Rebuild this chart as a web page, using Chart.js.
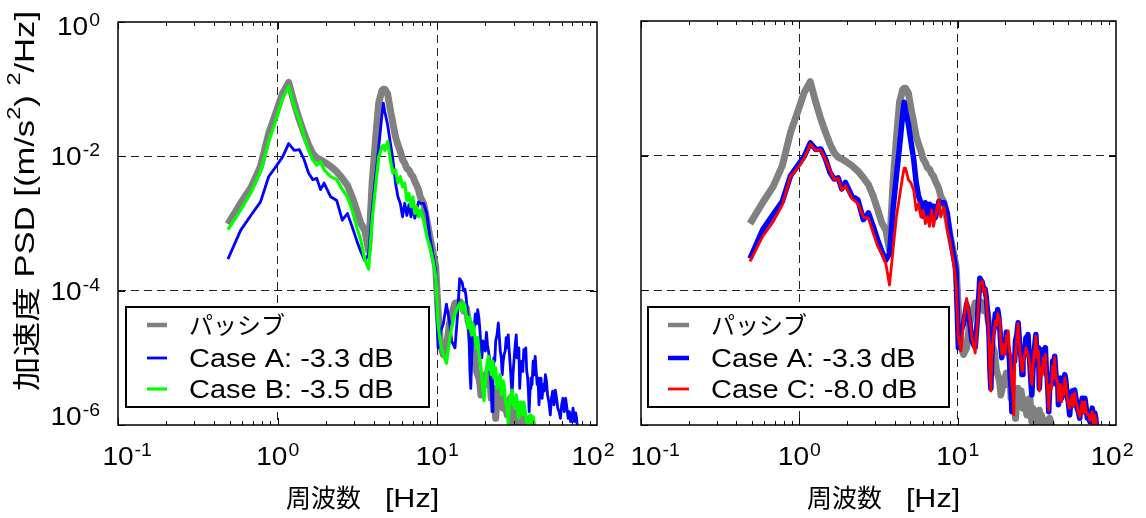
<!DOCTYPE html>
<html>
<head>
<meta charset="utf-8">
<script src="https://cdn.jsdelivr.net/npm/chart.js@4.4.1/dist/chart.umd.min.js"></script>
<style>
  html, body { margin: 0; padding: 0; background: #fff; }
  #wrap { position: relative; width: 1146px; height: 518px; }
  #wrap canvas { position: absolute; left: 0; top: 0; }
</style>
</head>
<body>
<div id="wrap">
  <canvas id="psdLeft" width="1146" height="518"></canvas>
  <canvas id="psdRight" width="1146" height="518"></canvas>
</div>
<script>
// frequency [Hz]
const freq = [
  0.488, 0.586, 0.684, 0.781, 0.879, 0.977, 1.074, 1.172, 1.270, 1.367, 1.465, 1.563, 1.660, 1.758, 1.855, 1.953,
  2.148, 2.344, 2.539, 2.734, 2.930, 3.125, 3.320, 3.516, 3.711, 3.906, 4.102, 4.297, 4.492, 4.590,
  4.688, 4.883, 5.078, 5.273, 5.469, 5.664, 5.859, 6.055, 6.250, 6.445, 6.641, 6.836, 7.031, 7.227, 7.422, 7.617, 7.813,
  8.203, 8.594, 8.984, 9.375, 9.766,
  10.1, 10.5, 10.9, 11.4, 11.9, 12.3, 12.9, 13.4, 13.8,
  14.3, 14.6, 14.9, 15.15, 15.4, 15.6, 15.8, 16.0, 16.2, 16.45, 16.7, 17.0, 17.3, 17.6, 17.9, 18.2, 18.5, 18.75, 19.0, 19.3,
  19.6, 19.95, 20.3, 20.6, 20.9, 21.2, 21.5, 21.75, 22.0, 22.3, 22.6, 22.9, 23.2, 23.65, 24.1, 24.45, 24.8, 25.15, 25.5, 25.85,
  26.2, 26.6, 27.0, 27.4, 27.8, 28.2, 28.6, 29.0, 29.4, 29.85, 30.3, 30.75, 31.2, 31.6, 32.0, 32.4, 32.8, 33.3, 33.8, 34.3,
  34.8, 35.3, 35.8, 36.3, 36.8, 37.2, 37.6, 38.1, 38.6, 39.2, 39.8, 40.4, 41.0, 41.6, 42.2, 42.75, 43.3, 43.95, 44.6, 45.3,
  46.0, 46.75, 47.5, 48.25, 49.0, 50.0, 51.0, 51.9, 52.8, 53.8, 54.8, 55.8, 56.8, 57.9, 59.0, 60.1, 61.2, 62.4, 63.6, 64.8,
  66.0, 67.2, 68.4, 69.6, 70.8, 72.15, 73.5, 74.5, 75.5, 76.45, 77.4
];

// PSD [(m/s2)2/Hz]
const passive = [
  9.8e-4, 2.0e-3, 3.5e-3, 7.1e-3, 2.2e-2, 4.5e-2, 8.7e-2, 1.26e-1, 6.2e-2, 3.5e-2, 2.2e-2, 1.48e-2, 1.10e-2, 9.5e-3, 8.9e-3, 8.3e-3,
  7.1e-3, 5.9e-3, 4.7e-3, 3.7e-3, 2.5e-3, 1.58e-3, 1.0e-3, 7.9e-4, 4.0e-4, 4.0e-3, 1.78e-2, 6.3e-2, 9.5e-2, 1.0e-1,
  1.0e-1, 8.5e-2, 4.9e-2, 3.1e-2, 1.95e-2, 1.48e-2, 1.18e-2, 8.9e-3, 7.9e-3, 6.6e-3, 6.3e-3, 5.4e-3, 5.0e-3, 4.2e-3, 3.7e-3, 3.2e-3, 2.5e-3,
  2.0e-3, 1.12e-3, 6.3e-4, 3.8e-4, 2.3e-4,
  5.0e-5, 1.48e-5, 1.12e-5, 1.41e-5, 3.2e-5, 4.5e-5, 6.5e-5, 6.6e-5, 6.9e-5,
  6.3e-5, 5.0e-5, 5.6e-5, 5.6e-5, 4.5e-5, 3.5e-5, 3.2e-5, 2.8e-5, 2.0e-5, 1.58e-5, 1.41e-5, 1.26e-5, 8.9e-6, 6.3e-6, 5.6e-6, 5.0e-6, 4.0e-6, 2.8e-6, 3.3e-6, 4.0e-6,
  4.5e-6, 5.0e-6, 5.9e-6, 4.0e-6, 4.5e-6, 5.0e-6, 4.0e-6, 2.5e-6, 3.2e-6, 3.5e-6, 3.5e-6, 2.5e-6, 1.26e-6, 2.5e-6, 3.5e-6, 2.2e-6, 3.0e-6, 3.2e-6, 2.5e-6, 1.78e-6,
  2.0e-6, 2.2e-6, 1.66e-6, 1.41e-6, 2.0e-6, 2.2e-6, 2.5e-6, 1.58e-6, 1.12e-6, 1.78e-6, 1.41e-6, 1.05e-6, 1.17e-6, 1.41e-6, 1.58e-6, 1.26e-6, 1.66e-6, 1.05e-6, 1.41e-6, 1.26e-6,
  1.05e-6, 1.12e-6, 9.3e-7, 8.9e-7, 1.05e-6, 1.0e-6, 1.2e-6, 1.26e-6, 1.12e-6, 1.0e-6, 8.9e-7, 7.9e-7, 7.6e-7, 7.1e-7, 5.6e-7, null, null, null, null, null,
  null, null, null, null, null, null, null, null, null, null, null, null, null, null, null, null, null, null, null, null,
  null, null, null, null, null, null, null, null, null, null, null
];

const caseA = [
  2.95e-4, 7.9e-4, 1.35e-3, 2.1e-3, 5.0e-3, 7.1e-3, 9.8e-3, 1.55e-2, 1.23e-2, 1.26e-2, 8.9e-3, 5.6e-3, 4.5e-3, 4.7e-3, 3.2e-3, 4.0e-3,
  2.5e-3, 2.2e-3, 1.12e-3, 1.41e-3, 8.9e-4, 5.6e-4, 3.8e-4, 2.8e-4, 3.5e-4, 1.58e-3, 5.0e-3, 1.38e-2, 4.0e-2, 6.2e-2,
  4.6e-2, 2.95e-2, 1.58e-2, 8.9e-3, 4.0e-3, 2.5e-3, 2.0e-3, 1.26e-3, 2.0e-3, 1.32e-3, 1.9e-3, 1.26e-3, 1.78e-3, 1.2e-3, 1.58e-3, 2.1e-3, 2.0e-3,
  2.0e-3, 1.41e-3, 6.3e-4, 3.5e-4, 2.0e-4,
  1.41e-5, 2.5e-5, 3.2e-5, 6.3e-5, 3.5e-5, 1.78e-5, 1.41e-5, 4.5e-5, 1.51e-4,
  1.32e-4, 1.0e-4, 1.05e-4, 7.9e-5, 5.0e-5, 3.5e-5, 2.0e-5, 6.3e-6, 3.5e-6, 1.12e-5, 2.2e-5, 2.8e-5, 4.5e-5, 3.2e-5, 5.2e-5, 4.0e-5, 2.5e-5, 1.41e-5, 1.0e-5, 1.78e-5,
  1.58e-5, 1.26e-5, 2.4e-5, 1.58e-5, 1.26e-5, 1.0e-5, 5.0e-6, 3.5e-6, 1.58e-6, 6.3e-6, 1.0e-5, 8.9e-6, 1.78e-5, 2.2e-5, 3.3e-5, 2.0e-5, 1.26e-5, 1.0e-5, 5.6e-6, 8.9e-6,
  1.12e-5, 1.26e-5, 2.0e-5, 1.41e-5, 2.2e-5, 1.26e-5, 7.9e-6, 4.5e-6, 2.8e-6, 6.3e-6, 1.0e-5, 1.58e-5, 2.2e-5, 1.0e-5, 1.26e-5, 1.41e-5, 3.5e-6, 7.9e-6, 8.9e-6, 6.3e-6,
  1.32e-5, 1.0e-5, 1.41e-5, 6.3e-6, 5.0e-6, 3.2e-6, 1.58e-6, 3.5e-6, 5.0e-6, 4.0e-6, 8.9e-6, 5.6e-6, 1.05e-5, 6.3e-6, 4.0e-6, 5.0e-6, 2.0e-6, 3.2e-6, 5.0e-6, 2.5e-6,
  4.0e-6, 3.2e-6, 5.6e-6, 4.5e-6, 2.8e-6, 2.2e-6, 1.41e-6, 2.5e-6, 3.2e-6, 2.0e-6, 3.3e-6, 2.5e-6, 1.78e-6, 1.58e-6, 1.26e-6, 2.0e-6, 2.5e-6, 1.58e-6, 2.5e-6, 1.78e-6,
  1.26e-6, 1.58e-6, 1.12e-6, 1.26e-6, 1.78e-6, 1.12e-6, 1.51e-6, 1.26e-6, 8.9e-7, 7.9e-7, 6.3e-7
];

const caseB = [
  8.1e-4, 1.58e-3, 2.95e-3, 5.9e-3, 1.66e-2, 3.5e-2, 7.2e-2, 1.10e-1, 5.5e-2, 3.5e-2, 1.95e-2, 1.23e-2, 8.9e-3, 7.4e-3, 8.3e-3, 6.3e-3,
  5.0e-3, 4.5e-3, 3.2e-3, 2.5e-3, 1.58e-3, 8.9e-4, 5.6e-4, 2.9e-4, 2.1e-4, 1.12e-3, 3.5e-3, 9.8e-3, 1.38e-2, 1.45e-2,
  1.23e-2, 1.66e-2, 8.9e-3, 5.6e-3, 6.3e-3, 4.0e-3, 5.0e-3, 3.5e-3, 4.0e-3, 2.2e-3, 2.8e-3, 1.78e-3, 2.5e-3, 1.41e-3, 1.78e-3, 1.26e-3, 1.58e-3,
  1.12e-3, 6.3e-4, 4.5e-4, 2.9e-4, 1.62e-4,
  3.2e-5, 1.58e-5, 1.12e-5, 8.3e-6, 1.78e-5, 2.9e-5, 4.5e-5, 5.6e-5, 6.5e-5,
  5.0e-5, 6.6e-5, 6.0e-5, 4.5e-5, 3.5e-5, 2.8e-5, 4.0e-5, 3.2e-5, 2.5e-5, 2.2e-5, 3.2e-5, 2.5e-5, 1.78e-5, 1.41e-5, 2.0e-5, 1.26e-5, 9.3e-6, 7.1e-6, 5.0e-6, 3.5e-6,
  2.3e-6, 4.0e-6, 6.6e-6, 8.9e-6, 1.05e-5, 8.9e-6, 7.1e-6, 5.6e-6, 8.9e-6, 6.3e-6, 5.0e-6, 5.6e-6, 7.1e-6, 3.5e-6, 4.5e-6, 5.0e-6, 5.6e-6, 2.8e-6, 3.5e-6, 4.5e-6,
  4.0e-6, 2.5e-6, 2.0e-6, 1.78e-6, 1.05e-6, 2.0e-6, 2.8e-6, 2.2e-6, 3.3e-6, 2.0e-6, 2.5e-6, 1.78e-6, 2.8e-6, 2.2e-6, 1.41e-6, 1.26e-6, 2.0e-6, 2.2e-6, 1.78e-6, 1.41e-6,
  2.2e-6, 1.78e-6, 1.41e-6, 1.12e-6, 8.9e-7, 1.0e-6, 1.26e-6, 1.41e-6, 1.12e-6, 1.0e-6, 1.32e-6, 1.05e-6, 7.9e-7, 7.1e-7, 5.6e-7, null, null, null, null, null,
  null, null, null, null, null, null, null, null, null, null, null, null, null, null, null, null, null, null, null, null,
  null, null, null, null, null, null, null, null, null, null, null
];

const caseC = [
  2.7e-4, 6.3e-4, 1.05e-3, 1.86e-3, 4.9e-3, 6.5e-3, 9.1e-3, 1.48e-2, 1.20e-2, 1.20e-2, 8.7e-3, 6.0e-3, 4.4e-3, 4.6e-3, 3.1e-3, 3.6e-3,
  2.3e-3, 1.95e-3, 1.23e-3, 1.17e-3, 7.1e-4, 4.5e-4, 3.5e-4, 2.5e-4, 1.20e-4, 4.0e-4, 1.23e-3, 2.5e-3, 4.9e-3, 6.5e-3,
  6.5e-3, 4.4e-3, 3.9e-3, 3.1e-3, 1.55e-3, 1.95e-3, 1.23e-3, 1.55e-3, 9.8e-4, 1.23e-3, 8.9e-4, 1.55e-3, 8.9e-4, 1.23e-3, 1.74e-3, 2.2e-3, 1.23e-3,
  1.74e-3, 7.9e-4, 5.0e-4, 2.8e-4, 1.26e-4,
  2.0e-5, 1.26e-5, 3.5e-5, 7.6e-5, 4.0e-5, 2.0e-5, 1.17e-5, 4.0e-5, 1.26e-4,
  1.38e-4, 9.5e-5, 1.05e-4, 7.1e-5, 4.5e-5, 3.2e-5, 1.58e-5, 5.6e-6, 3.2e-6, 1.0e-5, 1.78e-5, 2.5e-5, 3.5e-5, 3.0e-5, 4.5e-5, 4.0e-5, 3.5e-5, 1.58e-5, 1.12e-5, 1.58e-5,
  1.41e-5, 1.12e-5, 2.1e-5, 1.78e-5, 2.5e-5, 1.26e-5, 1.12e-5, 6.3e-6, 4.0e-6, 3.2e-6, 1.41e-6, 7.1e-6, 1.12e-5, 2.0e-5, 3.2e-5, 1.78e-5, 1.12e-5, 8.9e-6, 6.3e-6, 7.9e-6,
  1.0e-5, 1.12e-5, 1.41e-5, 1.26e-5, 1.12e-5, 1.0e-5, 7.1e-6, 5.0e-6, 4.0e-6, 6.3e-6, 1.12e-5, 1.41e-5, 2.1e-5, 1.0e-5, 1.05e-5, 1.26e-5, 3.2e-6, 5.6e-6, 7.1e-6, 5.6e-6,
  1.0e-5, 8.9e-6, 1.12e-5, 5.6e-6, 4.0e-6, 2.8e-6, 1.66e-6, 3.2e-6, 4.0e-6, 3.5e-6, 7.6e-6, 5.0e-6, 1.0e-5, 5.6e-6, 4.5e-6, 4.5e-6, 2.3e-6, 2.8e-6, 4.0e-6, 2.2e-6,
  3.5e-6, 2.8e-6, 5.0e-6, 4.0e-6, 2.8e-6, 2.0e-6, 1.78e-6, 2.2e-6, 2.8e-6, 1.9e-6, 3.0e-6, 2.2e-6, 1.9e-6, 1.5e-6, 1.32e-6, 1.78e-6, 2.2e-6, 1.5e-6, 2.2e-6, 1.58e-6,
  1.41e-6, 1.41e-6, 1.17e-6, 1.2e-6, 1.58e-6, 1.05e-6, 1.41e-6, 1.17e-6, 9.5e-7, 7.6e-7, 6.6e-7
];

const xTicks = [0.1, 1, 10, 100];
const yTicks = [1e-6, 1e-4, 1e-2, 1];
const xGrid = [1, 10];
const yGrid = [1e-4, 1e-2];

const labelPassive = 'パッシブ';
const labelA = 'Case A: -3.3 dB';
const labelB = 'Case B: -3.5 dB';
const labelC = 'Case C: -8.0 dB';
const xTitle = ['周波数', '[Hz]'];

[passive, caseA, caseB, caseC].forEach((s, i) => {
  if (s.length !== freq.length) throw new Error('series ' + i + ' has ' + s.length + ' values, freq has ' + freq.length);
});

const LATIN = '"Liberation Sans", Arial, sans-serif';
const JP = '"Noto Sans CJK JP", "Noto Sans CJK SC", sans-serif';

function points(vals) {
  return freq.map((f, i) => ({ x: f, y: vals[i] }));
}

// draw a piece of text, stretched horizontally by sx, returns its width
function run(ctx, text, size, family, sx, x, y) {
  ctx.font = size + 'px ' + family;
  const w = ctx.measureText(text).width * sx;
  ctx.save();
  ctx.translate(x, y);
  ctx.scale(sx, 1);
  ctx.fillText(text, 0, 0);
  ctx.restore();
  return w;
}
function runWidth(ctx, text, size, family, sx) {
  ctx.font = size + 'px ' + family;
  return ctx.measureText(text).width * sx;
}

function baseWidth(ctx) { return runWidth(ctx, '10', 26, LATIN, 1.08); }
function powWidth(ctx, e) {
  return baseWidth(ctx) + 1 + runWidth(ctx, String(e), 18, LATIN, 1.08);
}
function drawPow(ctx, e, x, base) {
  const w = run(ctx, '10', 26, LATIN, 1.08, x, base);
  run(ctx, String(e), 18, LATIN, 1.08, x + w + 1, base - 9);
}

function framePlugin(cfg) {
  return {
    id: 'psdFrame',
    afterDatasetsDraw(chart) {
      const ctx = chart.ctx;
      const a = chart.chartArea;
      const xs = chart.scales.x, ys = chart.scales.y;
      ctx.save();
      ctx.fillStyle = '#000';
      ctx.strokeStyle = '#000';
      ctx.textBaseline = 'alphabetic';
      ctx.textAlign = 'left';

      // inward tick marks
      ctx.lineWidth = 1;
      ctx.beginPath();
      for (let d = 0; d < xTicks.length - 1; d++) {
        for (let m = 1; m < 10; m++) {
          const px = Math.round(xs.getPixelForValue(xTicks[d] * m)) + 0.5;
          const len = m === 1 ? 7 : 4;
          ctx.moveTo(px, a.bottom); ctx.lineTo(px, a.bottom - len);
          ctx.moveTo(px, a.top); ctx.lineTo(px, a.top + len);
        }
      }
      yTicks.forEach(v => {
        const py = Math.round(ys.getPixelForValue(v)) + 0.5;
        ctx.moveTo(a.left, py); ctx.lineTo(a.left + 7, py);
        ctx.moveTo(a.right, py); ctx.lineTo(a.right - 7, py);
      });
      ctx.stroke();

      // frame
      ctx.lineWidth = 1.5;
      ctx.strokeRect(a.left, a.top, a.right - a.left, a.bottom - a.top);

      // x tick labels
      xTicks.forEach((v, i) => {
        const e = Math.round(Math.log10(v));
        const px = xs.getPixelForValue(v);
        let x0 = px - powWidth(ctx, e) / 2;
        if (i === 0) x0 = px - baseWidth(ctx) / 2 + cfg.firstShift;
        if (i === xTicks.length - 1) x0 -= 4;
        drawPow(ctx, e, x0, 465);
      });

      // y tick labels
      if (cfg.yLabels) {
        yTicks.forEach(v => {
          const e = Math.round(Math.log10(v));
          const py = ys.getPixelForValue(v);
          const base = Math.min(Math.max(py + 9, a.top + 13), a.bottom);
          drawPow(ctx, e, a.left - 18 - powWidth(ctx, e), base);
        });
      }

      // x title
      const cx = (a.left + a.right) / 2 + 5;
      const w1 = runWidth(ctx, xTitle[0], 25, JP, 1);
      const w2 = runWidth(ctx, xTitle[1], 25, LATIN, 1.22);
      const gap = 24;
      const tx = cx - (w1 + gap + w2) / 2;
      run(ctx, xTitle[0], 25, JP, 1, tx, 507);
      run(ctx, xTitle[1], 25, LATIN, 1.22, tx + w1 + gap, 507);

      // y title (rotated)
      if (cfg.yTitle) {
        const parts = [
          ['加速度', 28, JP, 0],
          [' PSD [(m/s', 28, LATIN, 0],
          ['2', 19, LATIN, 11],
          [') ', 28, LATIN, 0],
          ['2', 19, LATIN, 11],
          ['/Hz]', 28, LATIN, 0]
        ];
        let total = 0;
        parts.forEach(p => { total += runWidth(ctx, p[0], p[1], p[2], 1); });
        const sx = 380 / total;
        ctx.save();
        ctx.translate(26, 201);
        ctx.rotate(-Math.PI / 2);
        ctx.textBaseline = 'middle';
        let x = -190;
        parts.forEach(p => {
          x += run(ctx, p[0], p[1], p[2], sx, x, -p[3]);
        });
        ctx.restore();
      }

      // legend
      const L = cfg.legend;
      ctx.fillStyle = '#fff';
      ctx.fillRect(L.x, L.y, L.w, L.h);
      ctx.lineWidth = 2;
      ctx.strokeStyle = '#000';
      ctx.strokeRect(L.x, L.y, L.w, L.h);
      chart.data.datasets.forEach((ds, i) => {
        const y = L.rows[i];
        ctx.strokeStyle = ds.borderColor;
        ctx.lineWidth = Math.min(ds.borderWidth, 4.5);
        ctx.lineCap = 'butt';
        ctx.beginPath();
        ctx.moveTo(L.lineX[0], y);
        ctx.lineTo(L.lineX[1], y);
        ctx.stroke();
        ctx.fillStyle = '#000';
        if (/[\u3000-\u9fff]/.test(ds.label)) {
          run(ctx, ds.label, 24, JP, 1, L.textX, y + 9);
        } else {
          run(ctx, ds.label, 25, LATIN, 1.16, L.textX, y + 9);
        }
      });
      ctx.restore();
    }
  };
}

function makeChart(id, datasets, pad, cfg) {
  return new Chart(document.getElementById(id), {
    type: 'line',
    data: { datasets: datasets },
    options: {
      responsive: false,
      animation: false,
      devicePixelRatio: 1,
      layout: { padding: pad },
      plugins: { legend: { display: false }, tooltip: { enabled: false } },
      elements: {
        point: { radius: 0 },
        line: { tension: 0, borderJoinStyle: 'round', borderCapStyle: 'butt' }
      },
      scales: {
        x: {
          type: 'logarithmic', min: 0.1, max: 100,
          afterBuildTicks: s => { s.ticks = xTicks.map(v => ({ value: v })); },
          ticks: { display: false },
          grid: {
            drawTicks: false, lineWidth: 1,
            color: c => (c.tick && xGrid.includes(c.tick.value)) ? '#222' : 'rgba(0,0,0,0)'
          },
          border: { display: false, dash: [8, 5] }
        },
        y: {
          type: 'logarithmic', min: 1e-6, max: 1,
          afterBuildTicks: s => { s.ticks = yTicks.map(v => ({ value: v })); },
          ticks: { display: false },
          grid: {
            drawTicks: false, lineWidth: 1,
            color: c => (c.tick && yGrid.includes(c.tick.value)) ? '#222' : 'rgba(0,0,0,0)'
          },
          border: { display: false, dash: [8, 5] }
        }
      }
    },
    plugins: [framePlugin(cfg)]
  });
}

makeChart('psdLeft', [
  { label: labelPassive, data: points(passive), borderColor: '#808080', borderWidth: 7, order: 3, clip: 0 },
  { label: labelA, data: points(caseA), borderColor: '#0000ff', borderWidth: 2.8, order: 2, clip: 0 },
  { label: labelB, data: points(caseB), borderColor: '#00ff00', borderWidth: 3.2, order: 1, clip: 0 }
], { left: 118, right: 549, top: 22, bottom: 93 }, {
  yLabels: true, yTitle: true, firstShift: 0,
  legend: { x: 126, y: 307, w: 303, h: 100, rows: [325, 358, 389], lineX: [147, 167], textX: 189 }
});

makeChart('psdRight', [
  { label: labelPassive, data: points(passive), borderColor: '#808080', borderWidth: 7, order: 3, clip: 0 },
  { label: labelA, data: points(caseA), borderColor: '#0000ff', borderWidth: 5.5, order: 2, clip: 0 },
  { label: labelC, data: points(caseC), borderColor: '#ff0000', borderWidth: 2.8, order: 1, clip: 0 }
], { left: 641, right: 30, top: 21, bottom: 93 }, {
  yLabels: false, yTitle: false, firstShift: 5,
  legend: { x: 648, y: 307, w: 301, h: 100, rows: [325, 358, 389], lineX: [668, 689], textX: 711 }
});
</script>
</body>
</html>
